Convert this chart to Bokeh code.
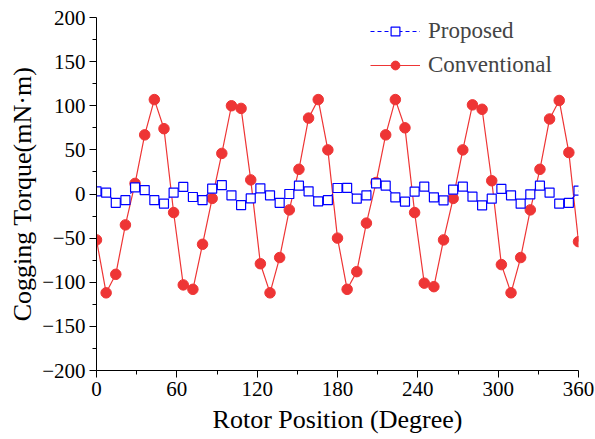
from bokeh.plotting import figure
from bokeh.models import FixedTicker, Legend, LegendItem, Range1d
from bokeh.embed import file_html
from bokeh.resources import INLINE

angle = [round(i * 7.2, 1) for i in range(51)]
conventional = [-52, -112, -91, -35, 12, 67, 107, 74, -21, -103, -108, -57, -5, 46, 100, 97, 16,
                -79, -112, -72, -18, 28, 86, 107, 50, -50, -108, -88, -33, 13, 67, 107, 75, -21,
                -101, -105, -52, -5, 50, 101, 96, 15, -80, -112, -72, -18, 28, 85, 106, 47, -54]
proposed = [3, 1.5, -10, -7, 7.5, 4.5, -7, -11, 1.5, 8, -3.4, -7, 6, 10, -1.5, -12.5, -5, 6.4,
            -1.5, -10, 0, 9.4, 3, -8.3, -7, 6.8, 7, -5.3, -1.5, 12, 9.4, -3.8, -8.7, 2.6, 8.3,
            -3.8, -7.2, 4.9, 8.3, -3, -12.8, -5.3, 5.7, -1.5, -11, -0.4, 9.4, 1.5, -11, -10, 3.8]

x_ticks = [0, 60, 120, 180, 240, 300, 360]
x_minor = [30, 90, 150, 210, 270, 330]
y_ticks = [-200, -150, -100, -50, 0, 50, 100, 150, 200]
y_minor = [-175, -125, -75, -25, 25, 75, 125, 175]
y_labels = ["\u2212200", "\u2212150", "\u2212100", "\u221250", "0", "50", "100", "150", "200"]

FONT = "Liberation Serif"
RED = "#ee3535"
BLUE = "#0000ff"

p = figure(width=595, height=439, output_backend="svg", toolbar_location=None,
           x_range=Range1d(0, 360), y_range=Range1d(-200, 200),
           min_border_left=96, min_border_right=17, min_border_top=17, min_border_bottom=69)
p.outline_line_color = None
p.grid.visible = False
p.background_fill_color = "white"
p.border_fill_color = "white"

p.xaxis.ticker = FixedTicker(ticks=x_ticks, minor_ticks=x_minor)
p.yaxis.ticker = FixedTicker(ticks=y_ticks, minor_ticks=y_minor)
p.yaxis.major_label_overrides = {t: l for t, l in zip(y_ticks, y_labels)}
p.xaxis.axis_label = "Rotor Position (Degree)"
p.yaxis.axis_label = "Cogging Torque(mN\u00b7m)"
for ax in (p.xaxis, p.yaxis):
    ax.axis_label_text_font = FONT
    ax.axis_label_text_font_style = "normal"
    ax.axis_label_text_font_size = "26px"
    ax.axis_label_text_color = "black"
    ax.major_label_text_font = FONT
    ax.major_label_text_font_size = "21px"
    ax.major_label_text_color = "black"
    ax.axis_line_color = "black"
    ax.axis_line_width = 1
    ax.major_tick_line_color = "black"
    ax.minor_tick_line_color = "black"
    ax.major_tick_in = 0
    ax.major_tick_out = 7
    ax.minor_tick_in = 0
    ax.minor_tick_out = 4
    ax.major_label_standoff = 4
    ax.axis_label_standoff = 6
p.yaxis.axis_label_standoff = 2

r_line = p.line(angle, conventional, line_color=RED, line_width=1.2)
r_pts = p.scatter(angle, conventional, marker="circle", size=10.5, fill_color=RED, line_color=RED)
b_line = p.line(angle, proposed, line_color=BLUE, line_width=1.2, line_dash="4 3")
b_pts = p.scatter(angle, proposed, marker="square", size=9, fill_color="white",
                  line_color=BLUE, line_width=1.2)

legend = Legend(items=[LegendItem(label="Proposed", renderers=[b_line, b_pts]),
                       LegendItem(label="Conventional", renderers=[r_line, r_pts])],
                location=(274, 292), border_line_color=None, background_fill_alpha=0,
                label_text_font=FONT, label_text_font_size="23px",
                glyph_width=50, glyph_height=22, label_height=22, label_width=135,
                spacing=8, padding=0, margin=0, label_standoff=8)
p.add_layout(legend)

open("out.html", "w").write(file_html(p, INLINE))
